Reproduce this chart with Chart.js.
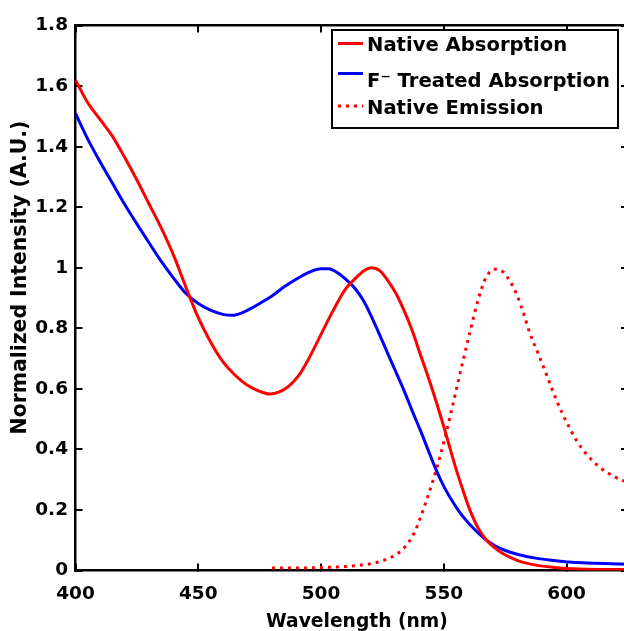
<!DOCTYPE html>
<html>
<head>
<meta charset="utf-8">
<script src="https://cdn.jsdelivr.net/npm/chart.js@4/dist/chart.umd.min.js"></script>
<style>
  html, body { margin: 0; padding: 0; background: #fff; overflow: hidden; }
  #wrap { width: 630px; height: 631px; }
</style>
</head>
<body>
<div id="wrap"><canvas id="c" width="630" height="631"></canvas></div>
<script>
// ---- data ----
const seriesLabels = ['Native Absorption', 'F\u207B Treated Absorption', 'Native Emission'];

const nativeAbsWl = [400,405,410,415,420,425,430,435,440,445,450,455,460,465,470,475,479,483,487,491,495,500,505,510,514,517.5,520.5,524,527,530.5,534,537,540.3,544,547,550,552.5,555,558,561,564,567.4,571,574,578,581,588,595,605,625];
const nativeAbs   = [1.62,1.545,1.49,1.435,1.365,1.29,1.21,1.13,1.04,0.935,0.835,0.755,0.69,0.645,0.612,0.592,0.583,0.59,0.61,0.645,0.70,0.78,0.86,0.93,0.965,0.99,1.0,0.99,0.96,0.915,0.855,0.795,0.717,0.63,0.555,0.475,0.404,0.335,0.26,0.192,0.14,0.10,0.073,0.056,0.04,0.03,0.017,0.01,0.005,0.003];

const treatedAbsWl = [400,405,410,415,420,425,430,435,440,445,450,455,460,464,468,472,476,480,485,490,495,500,503,507,511,514,517,520,523.5,527,530.5,534,537.5,540.5,544,547,550,554,557,560.6,564,567.5,571,575,581,588,595,601,608,615,625];
const treatedAbs   = [1.51,1.425,1.35,1.28,1.21,1.145,1.082,1.02,0.965,0.915,0.882,0.86,0.846,0.843,0.852,0.868,0.887,0.907,0.937,0.963,0.985,0.997,0.997,0.982,0.955,0.93,0.895,0.848,0.785,0.72,0.655,0.59,0.52,0.462,0.39,0.33,0.278,0.222,0.186,0.152,0.124,0.099,0.081,0.066,0.051,0.04,0.033,0.028,0.025,0.023,0.021];

const emissionWl = [480,490,500,510,515,520,525,530,533,536,538,540,543.5,547,550.5,554,557.3,560.7,564,567,570.5,573.5,577,580,582.5,585,588.5,592,596,600,604,608,613.6,619,625];
const emission   = [0.008,0.008,0.01,0.013,0.017,0.022,0.032,0.05,0.068,0.097,0.125,0.165,0.245,0.335,0.44,0.56,0.675,0.79,0.895,0.965,0.995,0.99,0.955,0.905,0.848,0.785,0.715,0.643,0.56,0.49,0.43,0.385,0.34,0.312,0.29];

const xMin = 400, xMax = 625, xStep = 50;
const yMin = 0, yMax = 1.8, yStep = 0.2;
const xTitle = 'Wavelength (nm)';
const yTitle = 'Normalized Intensity (A.U.)';

// ---- helpers ----
const pts = (xs, ys) => xs.map((x, i) => ({ x: x, y: ys[i] }));
const FONT = "'DejaVu Sans'";

const legendBox = {
  id: 'legendBox',
  afterDatasetsDraw(chart) {
    const ctx = chart.ctx;
    const x0 = 332, y0 = 30, x1 = 618, y1 = 128;
    const rows = [
      { ly: 43.5, tb: 50.8 },
      { ly: 73.5, tb: 86.7 },
      { ly: 106, tb: 114 }
    ];
    ctx.save();
    ctx.fillStyle = '#fff';
    ctx.fillRect(x0, y0, x1 - x0, y1 - y0);
    ctx.strokeStyle = '#000';
    ctx.lineWidth = 2;
    ctx.setLineDash([]);
    ctx.strokeRect(x0, y0, x1 - x0, y1 - y0);
    chart.data.datasets.forEach((ds, i) => {
      const r = rows[i];
      ctx.beginPath();
      ctx.strokeStyle = ds.borderColor;
      ctx.lineWidth = ds.borderWidth;
      ctx.setLineDash(ds.borderDash || []);
      ctx.moveTo(338, r.ly);
      ctx.lineTo(363, r.ly);
      ctx.stroke();
      ctx.setLineDash([]);
      ctx.fillStyle = '#000';
      ctx.font = 'bold 19.6px ' + FONT;
      ctx.textAlign = 'left';
      ctx.textBaseline = 'alphabetic';
      ctx.fillText(ds.label, 367, r.tb);
    });
    ctx.restore();
  }
};

// axis titles placed like the reference (slightly off-centre)
const axisTitles = {
  id: 'axisTitles',
  afterDraw(chart) {
    const ctx = chart.ctx;
    ctx.save();
    ctx.fillStyle = '#000';
    ctx.textAlign = 'center';
    ctx.textBaseline = 'alphabetic';
    ctx.font = 'bold 18.7px ' + FONT;
    ctx.fillText(xTitle, 357, 626.5);
    ctx.translate(25.8, 277.5);
    ctx.rotate(-Math.PI / 2);
    ctx.font = 'bold 20.4px ' + FONT;
    ctx.fillText(yTitle, 0, 0);
    ctx.restore();
  }
};

const axisCommon = {
  type: 'linear',
  border: { display: true, color: '#000', width: 2.5 },
  grid: { drawOnChartArea: false, drawTicks: true, tickLength: -7, color: '#000', lineWidth: 2 }
};

new Chart(document.getElementById('c'), {
  type: 'line',
  data: {
    datasets: [
      { label: seriesLabels[0], data: pts(nativeAbsWl, nativeAbs), borderColor: '#ff0000', borderWidth: 3, pointRadius: 0, cubicInterpolationMode: 'monotone', fill: false },
      { label: seriesLabels[1], data: pts(treatedAbsWl, treatedAbs), borderColor: '#0000ff', borderWidth: 3, pointRadius: 0, cubicInterpolationMode: 'monotone', fill: false },
      { label: seriesLabels[2], data: pts(emissionWl, emission), borderColor: '#ff0000', borderWidth: 3, borderDash: [3, 5], pointRadius: 0, cubicInterpolationMode: 'monotone', fill: false }
    ]
  },
  options: {
    responsive: false,
    animation: false,
    devicePixelRatio: 1,
    layout: { padding: 0 },
    plugins: { legend: { display: false }, tooltip: { enabled: false } },
    scales: {
      x: Object.assign({}, axisCommon, {
        position: 'bottom', min: xMin, max: xMax,
        ticks: { stepSize: xStep, includeBounds: false, maxRotation: 0, autoSkip: false, color: '#000', padding: 20, font: { family: FONT, weight: 'bold', size: 18.5 } },
        afterFit: s => { s.height = 60.5; }
      }),
      x2: Object.assign({}, axisCommon, {
        position: 'top', min: xMin, max: xMax,
        ticks: { stepSize: xStep, includeBounds: false, display: false },
        afterFit: s => { s.height = 17.5; }
      }),
      y: Object.assign({}, axisCommon, {
        position: 'left', min: yMin, max: yMax,
        ticks: { stepSize: yStep, includeBounds: false, color: '#000', padding: 14.5,
                 font: { family: FONT, weight: 'bold', size: 18.5 },
                 callback: v => String(Math.round(v * 10) / 10) },
        afterFit: s => { s.width = 75.5; }
      }),
      y2: Object.assign({}, axisCommon, {
        position: 'right', min: yMin, max: yMax,
        ticks: { stepSize: yStep, includeBounds: false, display: false },
        afterFit: s => { s.width = 2; }
      })
    }
  },
  plugins: [legendBox, axisTitles]
});
</script>
</body>
</html>
